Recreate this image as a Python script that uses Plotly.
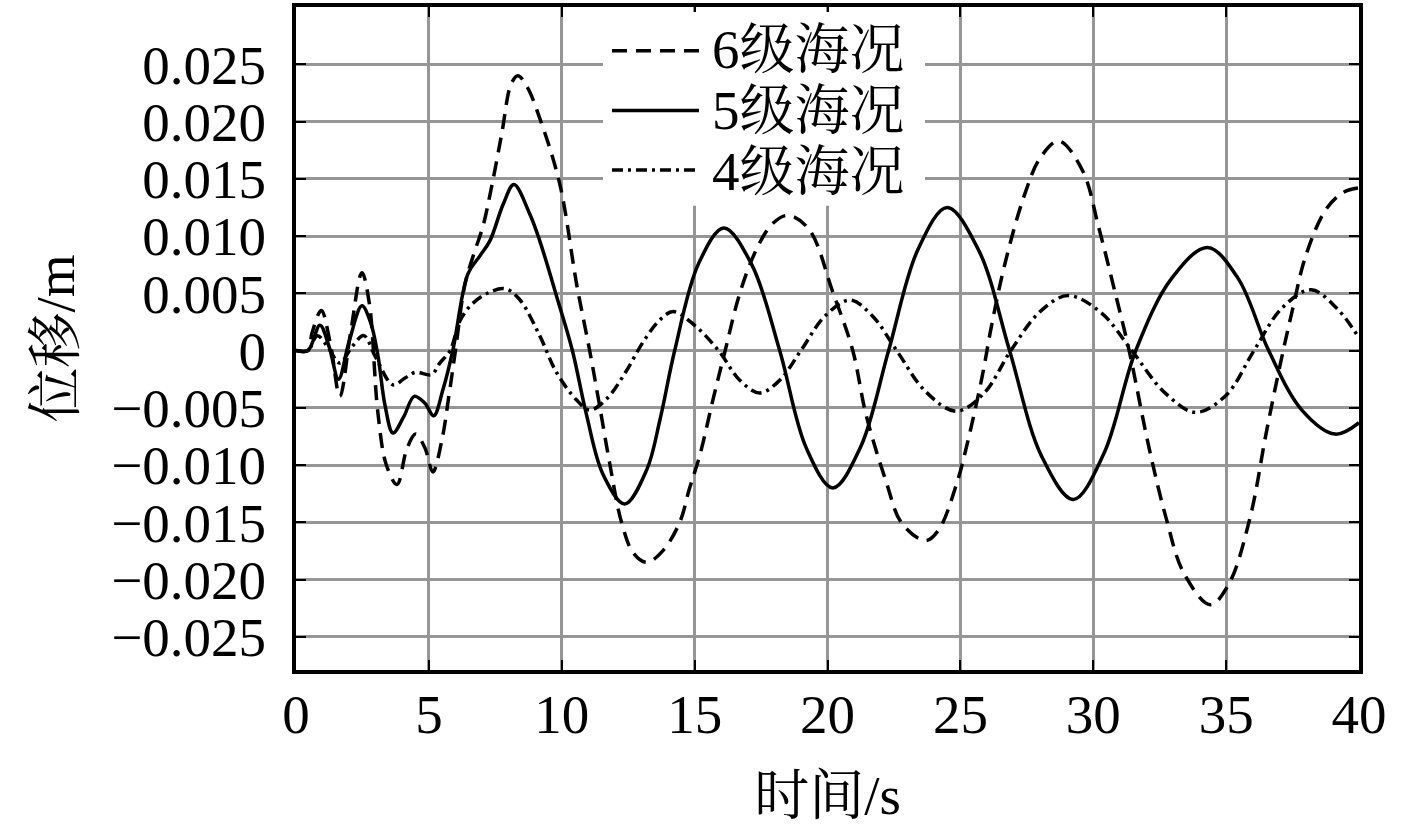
import plotly.graph_objects as go

# ---------------------------------------------------------------------------
# data (time in s, displacement in m)
# ---------------------------------------------------------------------------

SERIES_NAMES = ["6级海况", "5级海况", "4级海况"]

t_6 = [0, 0.45, 0.6, 0.95, 1.3, 1.65, 2.05, 2.48, 2.76, 3.08, 3.4, 3.8, 4.17,
       4.5, 4.85, 5.15, 5.5, 5.75, 6.0, 6.35, 6.7, 7.03, 7.36, 7.74, 8.1, 8.35,
       8.7, 9.17, 9.92, 10.56, 11.05, 11.4, 11.8, 12.25, 12.7, 13.2, 13.8,
       14.44, 14.8, 15.2, 15.7, 16.15, 16.7, 17.3, 17.9, 18.5, 19.3, 20.2, 20.95,
       21.45, 22.2, 22.8, 23.7, 24.2, 24.85, 25.2, 25.8, 26.2, 26.7, 27.4, 28.0,
       28.7, 29.6, 30.2, 30.85, 31.35, 32.1, 32.75, 33.4, 34.4, 35.1, 35.9, 36.5,
       37.0, 37.5, 38.0, 38.75, 39.4, 40.0]
d_6 = [0, 0, 0.0015, 0.0035, 0.0005, -0.0040, 0.0015, 0.0068, 0.0041, -0.0054,
       -0.0100, -0.0117, -0.0086, -0.0073, -0.0085, -0.0106, -0.0077, -0.0040,
       0.0, 0.0057, 0.0085, 0.0108, 0.0143, 0.0189, 0.0233, 0.0240, 0.0230,
       0.0203, 0.0146, 0.0058, 0.0, -0.0045, -0.0098, -0.0150, -0.0177, -0.0185,
       -0.0175, -0.0150, -0.0121, -0.0091, -0.0042, 0.0, 0.0050, 0.0087, 0.0110,
       0.0118, 0.0106, 0.0051, 0.0, -0.0056, -0.0114, -0.0151, -0.0166, -0.0156,
       -0.0117, -0.0087, -0.0025, 0.0025, 0.0078, 0.0135, 0.0168, 0.0183, 0.0157,
       0.0108, 0.0048, 0.0, -0.0085, -0.0147, -0.0194, -0.0222, -0.0204, -0.0146,
       -0.0073, -0.0016, 0.0036, 0.0083, 0.0123, 0.0138, 0.0142]

t_5 = [0, 0.45, 0.9, 1.25, 1.6, 2.0, 2.48, 2.8, 3.08, 3.35, 3.65, 4.05, 4.45,
       4.85, 5.18, 5.53, 5.9, 6.47, 6.9, 7.3, 7.8, 8.2, 8.8, 9.17, 9.85, 10.4,
       10.93, 11.55, 12.37, 13.2, 13.7, 14.25, 15.15, 16.1, 17.15, 18.2, 19.2,
       20.2, 21.25, 22.3, 23.4, 24.5, 25.7, 26.85, 28.05, 29.25, 30.4, 31.6,
       32.95, 34.3, 35.45, 36.6, 37.85, 39.1, 40.0]
d_5 = [0, 0, 0.0022, 0.0003, -0.0025, 0.0008, 0.0039, 0.0025, -0.0004, -0.0048,
       -0.0072, -0.0058, -0.0040, -0.0046, -0.0057, -0.0034, 0.0, 0.0067,
       0.0082, 0.0096, 0.0128, 0.0145, 0.0119, 0.0096, 0.0044, 0.0, -0.0056,
       -0.0108, -0.0134, -0.0104, -0.0060, 0.0, 0.0076, 0.0107, 0.0075, 0.0,
       -0.0085, -0.0120, -0.0084, 0.0, 0.0088, 0.0125, 0.0087, 0.0, -0.0092,
       -0.0130, -0.0090, 0.0, 0.0063, 0.0090, 0.0063, 0.0, -0.0052, -0.0073,
       -0.0063]

t_4 = [0, 0.45, 0.8, 1.2, 1.65, 2.1, 2.55, 3.0, 3.65, 4.1, 4.5, 5.1, 5.41, 5.8,
       6.17, 6.6, 7.2, 7.86, 8.4, 9.17, 9.8, 10.55, 11.05, 11.7, 12.4, 13.05,
       13.7, 14.2, 15.0, 15.9, 16.7, 17.45, 18.2, 19.0, 19.9, 20.85, 21.7, 22.6,
       23.7, 24.85, 25.9, 26.9, 28.0, 29.05, 30.3, 31.45, 32.7, 33.85, 35.0,
       36.05, 37.1, 38.2, 39.2, 40.0]
d_4 = [0, 0, 0.0013, 0.0003, -0.0011, 0.0003, 0.0013, -0.0006, -0.0030,
       -0.0024, -0.0019, -0.0021, -0.0011, 0.0, 0.0026, 0.0040, 0.0050, 0.0054,
       0.0045, 0.0013, -0.0019, -0.0043, -0.0052, -0.0042, -0.0019, 0.0007,
       0.0027, 0.0034, 0.0022, 0.0, -0.0026, -0.0037, -0.0026, 0.0, 0.0030,
       0.0044, 0.0030, 0.0, -0.0036, -0.0053, -0.0037, 0.0, 0.0034, 0.0048,
       0.0033, 0.0, -0.0037, -0.0054, -0.0039, 0.0, 0.0037, 0.0053, 0.0036,
       0.0011]

X_TICKS = [0, 5, 10, 15, 20, 25, 30, 35, 40]
Y_TICKS = [0.025, 0.020, 0.015, 0.010, 0.005, 0, -0.005, -0.010, -0.015,
           -0.020, -0.025]
Y_TICK_TEXT = ["0.025", "0.020", "0.015", "0.010", "0.005", "0", "\u22120.005",
               "\u22120.010", "\u22120.015", "\u22120.020", "\u22120.025"]

# ---------------------------------------------------------------------------
# styling
# ---------------------------------------------------------------------------

W, H = 1417, 833
M_L, M_R, M_T, M_B = 296, 58, 3, 163
FAMILY = "Liberation Serif, 'Noto Serif CJK SC', 'Noto Sans CJK SC', serif"
FONT = dict(family=FAMILY, size=55, color="black")
DASHES = ["15px,9px", "solid", "11px,5px,3px,5px"]
GRID = "rgb(150,150,150)"
LW = 3.5


def px_to_paper(x, y):
    """pixel position on the page -> paper coordinates of the plot area"""
    pw = W - M_L - M_R
    ph = H - M_T - M_B
    return (x - M_L) / pw, (H - M_B - y) / ph


fig = go.Figure()

for name, t, d, dash in zip(SERIES_NAMES, [t_6, t_5, t_4], [d_6, d_5, d_4], DASHES):
    fig.add_trace(go.Scatter(
        x=t, y=d, name=name, mode="lines",
        line=dict(color="black", width=LW, dash=dash, shape="spline", smoothing=1.0),
        hoverinfo="skip", showlegend=False,
    ))

# hand-made legend (white box covering the grid, long line samples)
bx0, by0 = px_to_paper(603, 203)
bx1, by1 = px_to_paper(925, 8)
shapes = [dict(type="rect", xref="paper", yref="paper", x0=bx0, y0=by0, x1=bx1, y1=by1,
               fillcolor="white", line=dict(width=0), layer="above")]
annotations = []
for i, (name, dash) in enumerate(zip(SERIES_NAMES, DASHES)):
    lx0, ly = px_to_paper(612, 47 + 60 * i)
    lx1, _ = px_to_paper(699, 47 + 60 * i)
    shapes.append(dict(type="line", xref="paper", yref="paper", x0=lx0, x1=lx1, y0=ly, y1=ly,
                       line=dict(color="black", width=LW, dash=dash), layer="above"))
    tx, ty = px_to_paper(710, 46 + 61 * i)
    annotations.append(dict(xref="paper", yref="paper", x=tx, y=ty, text=name,
                            showarrow=False, xanchor="left", yanchor="middle", font=FONT))

fig.update_layout(
    width=W, height=H,
    margin=dict(l=M_L, r=M_R, t=M_T, b=M_B),
    paper_bgcolor="white", plot_bgcolor="white",
    font=FONT,
    shapes=shapes, annotations=annotations,
    showlegend=False,
)

fig.update_xaxes(
    range=[0, 40], tickvals=X_TICKS, ticktext=[str(v) for v in X_TICKS],
    showgrid=True, gridcolor=GRID, gridwidth=2.5, zeroline=False,
    showline=True, linecolor="black", linewidth=4, mirror="ticks",
    ticks="inside", ticklen=10, tickwidth=2, tickcolor="black",
    tickfont=FONT, ticklabelstandoff=-7,
    title=dict(text="时间/s", font=FONT, standoff=32),
)
fig.update_yaxes(
    range=[-0.0279, 0.0300], tickvals=Y_TICKS, ticktext=Y_TICK_TEXT,
    showgrid=True, gridcolor=GRID, gridwidth=2.5, zeroline=False,
    showline=True, linecolor="black", linewidth=4, mirror="ticks",
    ticks="inside", ticklen=10, tickwidth=2, tickcolor="black",
    tickfont=FONT, ticklabelstandoff=15,
    title=dict(text="位移/m", font=FONT, standoff=20),
)

# the page's default 8px body margin would shift the whole figure
fig.write_html("out.html", config={"displayModeBar": False},
               post_script="document.body.style.margin='0';")
